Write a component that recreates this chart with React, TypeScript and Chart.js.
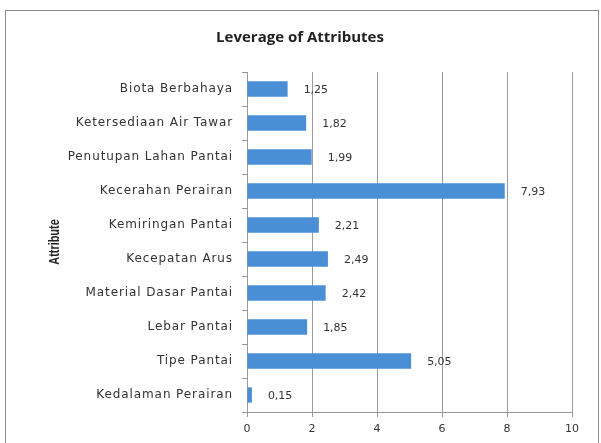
import React, { useEffect, useRef } from "react";
import { Chart, registerables } from "chart.js";

Chart.register(...registerables);

const attributes = [
  "Biota Berbahaya",
  "Ketersediaan Air Tawar",
  "Penutupan Lahan Pantai",
  "Kecerahan Perairan",
  "Kemiringan Pantai",
  "Kecepatan Arus",
  "Material Dasar Pantai",
  "Lebar Pantai",
  "Tipe Pantai",
  "Kedalaman Perairan",
];

const leverage = [1.25, 1.82, 1.99, 7.93, 2.21, 2.49, 2.42, 1.85, 5.05, 0.15];

const xTicks = [0, 2, 4, 6, 8, 10];

const chartTitle = "Leverage of Attributes";
const axisTitle = "Attribute";

const labelFont = "'DejaVu Sans', Verdana, sans-serif";

// Category names (y tick labels, drawn after the bars) get a little tracking.
const tracking = {
  id: "tracking",
  beforeDraw(chart: any) {
    chart.ctx.letterSpacing = "0px";
  },
  afterDatasetsDraw(chart: any) {
    chart.ctx.letterSpacing = "0.9px";
  },
};

// Chart title, rotated axis title and the value labels past each bar.
const annotations = {
  id: "annotations",
  afterDraw(chart: any) {
    const ctx = chart.ctx;
    ctx.letterSpacing = "0px";
    const meta = chart.getDatasetMeta(0);
    ctx.save();

    ctx.font = `11px ${labelFont}`;
    ctx.fillStyle = "#333";
    ctx.textAlign = "left";
    ctx.textBaseline = "middle";
    meta.data.forEach((bar: any, i: number) => {
      const text = leverage[i].toFixed(2).replace(".", ",");
      ctx.fillText(text, bar.x + 16, bar.y + 1);
    });

    ctx.font = "bold 15px 'Open Sans', sans-serif";
    ctx.fillStyle = "#222";
    ctx.textAlign = "center";
    ctx.fillText(chartTitle, 300, 38);

    const area = chart.chartArea;
    ctx.translate(55, (area.top + area.bottom) / 2);
    ctx.rotate(-Math.PI / 2);
    ctx.scale(0.78, 1);
    ctx.font = "bold 14px 'Liberation Sans', Arial, sans-serif";
    ctx.fillText(axisTitle, 0, 0);
    ctx.restore();
  },
};

export default function App() {
  const canvasRef = useRef<HTMLCanvasElement>(null);

  useEffect(() => {
    if (!canvasRef.current) return;
    const chart = new Chart(canvasRef.current, {
      type: "bar",
      data: {
        labels: attributes,
        datasets: [
          {
            data: leverage,
            backgroundColor: "#4A8ED6",
            borderWidth: 0,
            categoryPercentage: 1,
            barPercentage: 0.45,
          },
        ],
      },
      options: {
        indexAxis: "y",
        animation: false,
        responsive: false,
        layout: { padding: { top: 72, left: 0, right: 29, bottom: 0 } },
        plugins: {
          legend: { display: false },
          tooltip: { enabled: false },
          title: { display: false },
        },
        scales: {
          x: {
            min: 0,
            max: 10,
            afterBuildTicks(scale: any) {
              scale.ticks = xTicks.map((v) => ({ value: v }));
            },
            afterFit(scale: any) {
              scale.height = 31;
            },
            grid: {
              color: "#9a9a9a",
              lineWidth: 1,
              drawTicks: true,
              tickLength: 5,
            },
            border: { display: true, color: "#9a9a9a" },
            ticks: {
              color: "#333",
              font: { family: labelFont, size: 11 },
              padding: 6,
            },
          },
          y: {
            afterFit(scale: any) {
              scale.width = 247;
            },
            grid: {
              offset: true,
              drawOnChartArea: false,
              drawTicks: true,
              tickLength: 5,
              color: "#9a9a9a",
            },
            border: { display: true, color: "#9a9a9a" },
            ticks: {
              z: 1,
              color: "#333",
              font: { family: labelFont, size: 12 },
              padding: 9,
            },
          },
        },
      },
      plugins: [tracking, annotations],
    });
    return () => chart.destroy();
  }, []);

  return (
    <div style={{ position: "absolute", left: 0, top: 0, width: 601, height: 443, overflow: "hidden", background: "#fff" }}>
      <div
        style={{
          position: "absolute",
          left: 5,
          top: 10,
          width: 594,
          height: 450,
          border: "1px solid #8c8c8c",
          boxSizing: "border-box",
        }}
      />
      <canvas ref={canvasRef} width={601} height={443} style={{ position: "absolute", left: 0, top: 0 }} />
    </div>
  );
}
